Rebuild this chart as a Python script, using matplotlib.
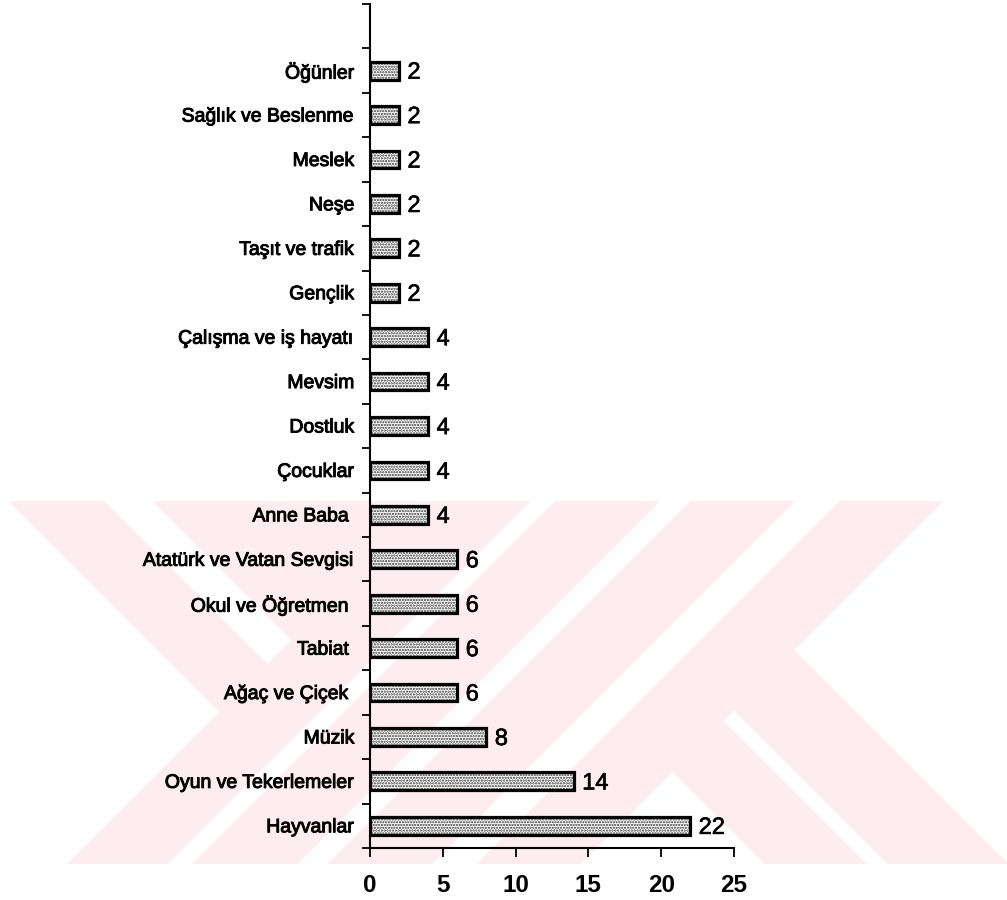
import numpy as np
import matplotlib
matplotlib.use("Agg")
import matplotlib.pyplot as plt
import matplotlib.patheffects as pe

plt.rcParams["font.family"] = ["Liberation Sans", "DejaVu Sans"]
plt.rcParams["hatch.linewidth"] = 1.1

# data (top to bottom as in the chart)
topics = ["Öğünler", "Sağlık ve Beslenme", "Meslek", "Neşe", "Taşıt ve trafik",
          "Gençlik", "Çalışma ve iş hayatı", "Mevsim", "Dostluk", "Çocuklar",
          "Anne Baba ", "Atatürk ve Vatan Sevgisi", "Okul ve Öğretmen ", "Tabiat ",
          "Ağaç ve Çiçek ", "Müzik", "Oyun ve Tekerlemeler", "Hayvanlar"]
counts = [2, 2, 2, 2, 2, 2, 4, 4, 4, 4, 4, 6, 6, 6, 6, 8, 14, 22]
x_ticks = [0, 5, 10, 15, 20, 25]

W, H = 1007, 900
fig = plt.figure(figsize=(W / 100, H / 100), dpi=100)

# faint pink thesis watermark in the background
bg = fig.add_axes([0, 0, 1, 1], zorder=-5)
yy, xx = np.mgrid[0:H, 0:W]
u = xx + yy
v = xx - yy
pink = (yy >= 501) & (yy <= 863) & (xx >= 8)
white = (v < -492) & (u < 931)
white |= (v > -397) & (v < -348) & (u < 931)
white |= ((u > 1030) & (u < 1056)) | ((u > 1160) & (u < 1191)) | ((u > 1295) & (u < 1340))
white |= (u > 1443) & ~(((v > -100) & (v < 3)) | ((v > 23) & (v < 145)))
mask = pink & ~white
img = np.ones((H, W, 3))
img[mask] = np.array([253, 236, 240]) / 255
bg.imshow(img, extent=(0, W, H, 0), aspect="auto", interpolation="nearest")
bg.axis("off")

ax = fig.add_axes([370 / W, 52 / H, 364 / W, 844 / H])
ax.set_facecolor("none")

thick = [pe.withStroke(linewidth=0.7, foreground="black")]
thin = [pe.withStroke(linewidth=0.45, foreground="black")]

ypos = np.arange(len(topics))[::-1]
# dotted grey fill, then a heavy black outline
ax.barh(ypos, counts, height=0.4, color="white", edgecolor="#3a3a3a",
        linewidth=0, hatch="......", zorder=2)
ax.barh(ypos, counts, height=0.4, fill=False, edgecolor="black",
        linewidth=2.3, zorder=3)

for y, c in zip(ypos, counts):
    ax.annotate(str(c), (c, y), xytext=(6, -1.5), textcoords="offset points",
                va="center", ha="left", fontsize=17, path_effects=thin)

ax.set_xlim(0, 25)
ax.set_ylim(-0.5, len(topics) + 0.5)
ax.set_xticks(x_ticks)
ax.set_xticklabels([str(t) for t in x_ticks], fontsize=17.5, fontweight="bold")
ax.tick_params(axis="x", length=6.5, width=1.3, pad=12)

ax.set_yticks(ypos)
ax.set_yticklabels(topics, fontsize=14, path_effects=thick)
ax.tick_params(axis="y", length=0, pad=11)
ax.set_yticks(np.arange(-0.5, len(topics) + 1), minor=True)
ax.tick_params(axis="y", which="minor", length=5.5, width=1.3)

for side in ["top", "right"]:
    ax.spines[side].set_visible(False)
ax.spines["left"].set_linewidth(1.5)
ax.spines["bottom"].set_linewidth(1.5)

plt.savefig("out.png", dpi=100)
plt.close()
